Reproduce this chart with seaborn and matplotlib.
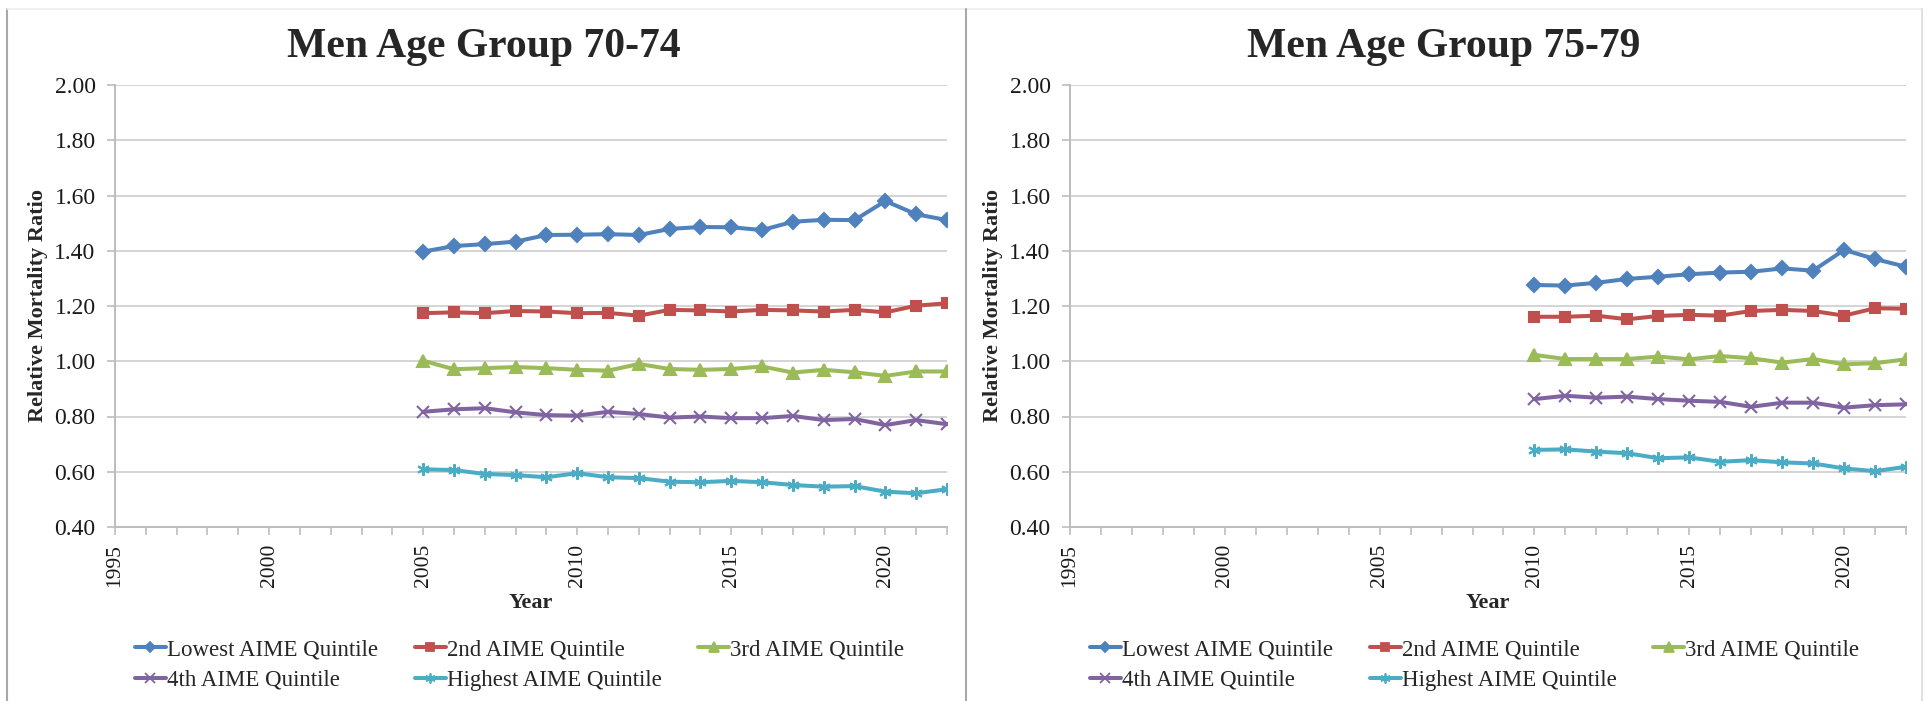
import matplotlib
matplotlib.use("Agg")
import matplotlib.pyplot as plt
from matplotlib.lines import Line2D
from matplotlib.ticker import MultipleLocator, FixedLocator
import seaborn as sns

# ---- data -------------------------------------------------------------
years_70_74 = list(range(2005, 2023))
years_75_79 = list(range(2010, 2023))

series_names = ["Lowest AIME Quintile", "2nd AIME Quintile", "3rd AIME Quintile",
                "4th AIME Quintile", "Highest AIME Quintile"]

lowest_70_74 = [1.397, 1.417, 1.424, 1.433, 1.457, 1.458, 1.460, 1.457, 1.479,
                1.486, 1.485, 1.475, 1.505, 1.512, 1.511, 1.580, 1.532, 1.511]
second_70_74 = [1.174, 1.177, 1.174, 1.182, 1.180, 1.174, 1.175, 1.165, 1.186,
                1.184, 1.180, 1.186, 1.184, 1.180, 1.186, 1.177, 1.201, 1.210]
third_70_74 = [1.002, 0.971, 0.975, 0.979, 0.975, 0.969, 0.966, 0.990, 0.972,
               0.969, 0.972, 0.981, 0.959, 0.969, 0.960, 0.947, 0.963, 0.963]
fourth_70_74 = [0.817, 0.826, 0.830, 0.815, 0.805, 0.803, 0.817, 0.809, 0.796,
                0.800, 0.794, 0.794, 0.802, 0.787, 0.791, 0.769, 0.787, 0.772]
highest_70_74 = [0.609, 0.606, 0.592, 0.588, 0.580, 0.595, 0.580, 0.577, 0.564,
                 0.562, 0.567, 0.562, 0.552, 0.546, 0.548, 0.528, 0.522, 0.537]

lowest_75_79 = [1.276, 1.274, 1.284, 1.298, 1.306, 1.315, 1.321, 1.324, 1.336,
                1.328, 1.403, 1.370, 1.342]
second_75_79 = [1.161, 1.161, 1.165, 1.152, 1.164, 1.168, 1.165, 1.182, 1.186,
                1.182, 1.165, 1.192, 1.190]
third_75_79 = [1.023, 1.008, 1.008, 1.008, 1.017, 1.007, 1.019, 1.011, 0.995,
               1.008, 0.989, 0.993, 1.007]
fourth_75_79 = [0.863, 0.875, 0.868, 0.872, 0.863, 0.857, 0.853, 0.835, 0.850,
                0.850, 0.832, 0.841, 0.844]
highest_75_79 = [0.679, 0.681, 0.673, 0.667, 0.649, 0.652, 0.636, 0.642, 0.634,
                 0.630, 0.612, 0.602, 0.618]

panel_titles = ["Men Age Group 70-74", "Men Age Group 75-79"]
y_ticks = [0.40, 0.60, 0.80, 1.00, 1.20, 1.40, 1.60, 1.80, 2.00]
x_major_ticks = [1995, 2000, 2005, 2010, 2015, 2020]

# ---- styling ----------------------------------------------------------
sns.set_theme(style="white")
plt.rcParams["font.family"] = ["Liberation Serif", "DejaVu Serif"]

colors = ["#4F81BD", "#C0504D", "#9BBB59", "#8064A2", "#4BACC6"]
markers = ["D", "s", "^", "x", (6, 2, 0)]
msizes = [7, 7.5, 8.5, 8.5, 9]
grid_col = "#D4D4D4"
axis_col = "#BDBDBD"
text_col = "#1a1a1a"

W, H = 1928, 701
fig = plt.figure(figsize=(W / 100, H / 100), dpi=100)
fig.patch.set_facecolor("white")


def fx(px):
    return px / W


def fy(py):
    return 1 - py / H


# chart frames
fig.add_artist(Line2D([fx(7), fx(7)], [fy(9), fy(701)], color="#A8A8A8", lw=1.5))
fig.add_artist(Line2D([fx(7), fx(1922)], [fy(9), fy(9)], color="#EDEDED", lw=1.2))
fig.add_artist(Line2D([fx(966), fx(966)], [fy(9), fy(701)], color="#A8A8A8", lw=1.5))
fig.add_artist(Line2D([fx(1922), fx(1922)], [fy(9), fy(701)], color="#DADADA", lw=1.2))

panels = [
    dict(ax_px=(115, 947), frame_center=484, legend_x=135,
         years=years_70_74,
         values=[lowest_70_74, second_70_74, third_70_74, fourth_70_74, highest_70_74]),
    dict(ax_px=(1070, 1906), frame_center=1444, legend_x=1090,
         years=years_75_79,
         values=[lowest_75_79, second_75_79, third_75_79, fourth_75_79, highest_75_79]),
]

# legend entries laid out row by row across three columns
legend_order = [0, 3, 1, 4, 2]

top_px, bot_px = 85, 527

for i, p in enumerate(panels):
    x0, x1 = p["ax_px"]
    ax = fig.add_axes([fx(x0), fy(bot_px), (x1 - x0) / W, (bot_px - top_px) / H])
    ax.set_facecolor("white")

    for name, vals, c, m, ms in zip(series_names, p["values"], colors, markers, msizes):
        sns.lineplot(x=p["years"], y=vals, ax=ax, color=c, linewidth=2.9,
                     marker=m, markersize=ms, markeredgecolor=c,
                     markeredgewidth=1.5, markerfacecolor=c, label=name,
                     legend=False, zorder=3)

    ax.set_xlim(1995, 2022)
    ax.set_ylim(0.40, 2.00)
    ax.yaxis.set_major_locator(FixedLocator(y_ticks))
    ax.set_yticklabels([f"{v:.2f}" for v in y_ticks])
    ax.xaxis.set_major_locator(FixedLocator(x_major_ticks))
    ax.xaxis.set_minor_locator(MultipleLocator(1))
    ax.set_xticklabels([str(v) for v in x_major_ticks], rotation=90)

    ax.grid(axis="y", color=grid_col, linewidth=1.4, zorder=0)
    ax.grid(axis="x", visible=False)
    for side in ("top", "right"):
        ax.spines[side].set_visible(False)
    for side in ("left", "bottom"):
        ax.spines[side].set_color(axis_col)
        ax.spines[side].set_linewidth(1.4)

    ax.tick_params(axis="y", which="major", direction="out", length=6,
                   width=1.2, color=axis_col, pad=8, labelsize=17, left=True,
                   labelcolor=text_col)
    ax.tick_params(axis="x", which="both", direction="out", length=6,
                   width=1.2, color=axis_col, pad=6, labelsize=15.5, bottom=True,
                   labelcolor=text_col)

    ax.set_ylabel("Relative Mortality Ratio", fontsize=16, fontweight="bold")
    ax.yaxis.set_label_coords(-0.080, 0.5)
    ax.set_xlabel("Year", fontsize=16, fontweight="bold")
    ax.xaxis.set_label_coords(0.5, -0.150)

    fig.text(fx(p["frame_center"]), fy(57), panel_titles[i], ha="center",
             va="baseline", fontsize=30, fontweight="bold")

    handles = [Line2D([], [], color=c, lw=2.9, marker=m, markersize=ms * 0.8,
                      markeredgecolor=c, markerfacecolor=c, markeredgewidth=1.3)
               for c, m, ms in zip(colors, markers, msizes)]
    ax.legend([handles[k] for k in legend_order],
              [series_names[k] for k in legend_order],
              ncol=3, frameon=False, fontsize=16.5,
              loc="center left", bbox_to_anchor=(fx(p["legend_x"]), fy(665)),
              bbox_transform=fig.transFigure, borderpad=0, borderaxespad=0,
              handlelength=1.35, handletextpad=0.05, columnspacing=1.6,
              labelspacing=0.4)

fig.savefig("out.png", dpi=100, facecolor="white")
